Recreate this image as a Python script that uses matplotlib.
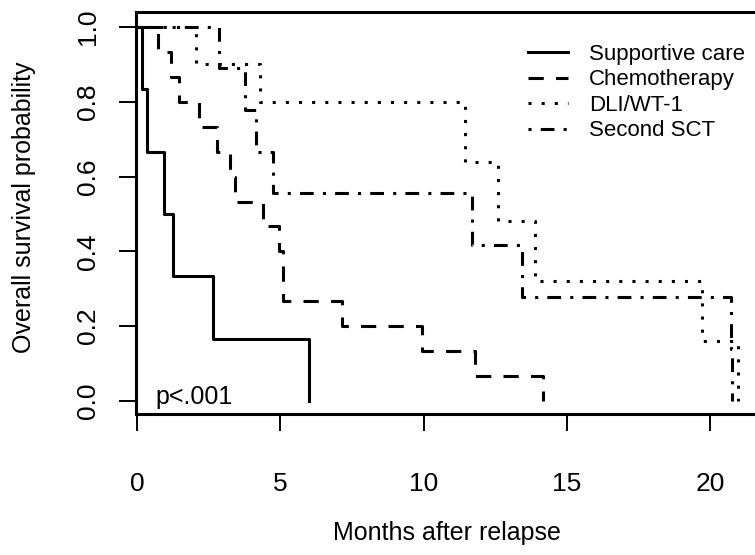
import matplotlib
matplotlib.use("Agg")
import matplotlib.pyplot as plt

plt.rcParams['font.family'] = ['Liberation Sans', 'DejaVu Sans']

# Kaplan-Meier steps (months after relapse, survival)
sc_time = [0, 0.17, 0.35, 0.94, 1.26, 2.65, 6.0]
sc_surv = [1.0, 0.833, 0.667, 0.5, 0.333, 0.167, 0.0]

chemo_time = [0, 0.74, 1.17, 1.48, 2.17, 2.78, 3.24, 3.42, 4.38, 4.95, 5.1, 7.16, 9.93, 11.79, 14.17]
chemo_surv = [1.0, 0.933, 0.867, 0.8, 0.733, 0.667, 0.6, 0.533, 0.467, 0.4, 0.267, 0.2, 0.133, 0.067, 0.0]

dli_time = [0, 2.05, 4.29, 11.44, 12.6, 13.88, 19.7, 20.98]
dli_surv = [1.0, 0.9, 0.8, 0.64, 0.48, 0.32, 0.16, 0.0]

sct_time = [0, 2.87, 3.77, 4.15, 4.73, 11.67, 13.42, 20.71, 20.76]
sct_surv = [1.0, 0.889, 0.778, 0.667, 0.556, 0.417, 0.278, 0.139, 0.0]

labels = ["Supportive care", "Chemotherapy", "DLI/WT-1", "Second SCT"]
x_ticks = [0, 5, 10, 15, 20]
y_ticks = [0.0, 0.2, 0.4, 0.6, 0.8, 1.0]

W, H = 755, 555
fig = plt.figure(figsize=(W / 100, H / 100), dpi=100)
# box spans x 136..757 px (right edge cropped), y 12..414 px
ax = fig.add_axes([136 / W, 1 - 414 / H, (757 - 136) / W, (414 - 12) / H])

lw = 2.2
ax.step(sc_time, sc_surv, where='post', color='black', lw=lw, label=labels[0])
ax.step(chemo_time, chemo_surv, where='post', color='black', lw=lw,
        dashes=(5, 4), label=labels[1])
ax.step(dli_time, dli_surv, where='post', color='black', lw=lw,
        dashes=(1, 3.3), label=labels[2])
ax.step(sct_time, sct_surv, where='post', color='black', lw=lw,
        dashes=(1, 3, 4.5, 3), label=labels[3])

ax.set_xlim(-0.035, 21.63)
ax.set_ylim(-0.0348, 1.040)
ax.set_xticks(x_ticks)
ax.set_xticklabels([str(t) for t in x_ticks])
ax.set_yticks(y_ticks)
ax.set_yticklabels([f"{t:.1f}" for t in y_ticks], rotation=90, va='center')

for s in ['top', 'left', 'bottom']:
    ax.spines[s].set_linewidth(lw)
ax.spines['right'].set_visible(False)
ax.tick_params(axis='both', length=12, width=1.4, labelsize=19, colors='black')
ax.tick_params(axis='x', pad=30)
ax.tick_params(axis='y', pad=14)

fig.text(447 / W, 1 - 533 / H, "Months after relapse", ha='center', va='center', fontsize=18)
fig.text(24 / W, 1 - 207 / H, "Overall survival probability", ha='center', va='center',
         rotation=90, fontsize=18)

ax.text(0.0306, 0.025, "p<.001", transform=ax.transAxes, ha='left', va='baseline', fontsize=18)

leg = ax.legend(loc='upper left', bbox_to_anchor=(528 / W, 1 - 44 / H), bbox_transform=fig.transFigure,
                frameon=False, fontsize=16, handlelength=1.8, handletextpad=0.95,
                labelspacing=0.2, borderpad=0, borderaxespad=0)

fig.savefig("out.png", dpi=100)
